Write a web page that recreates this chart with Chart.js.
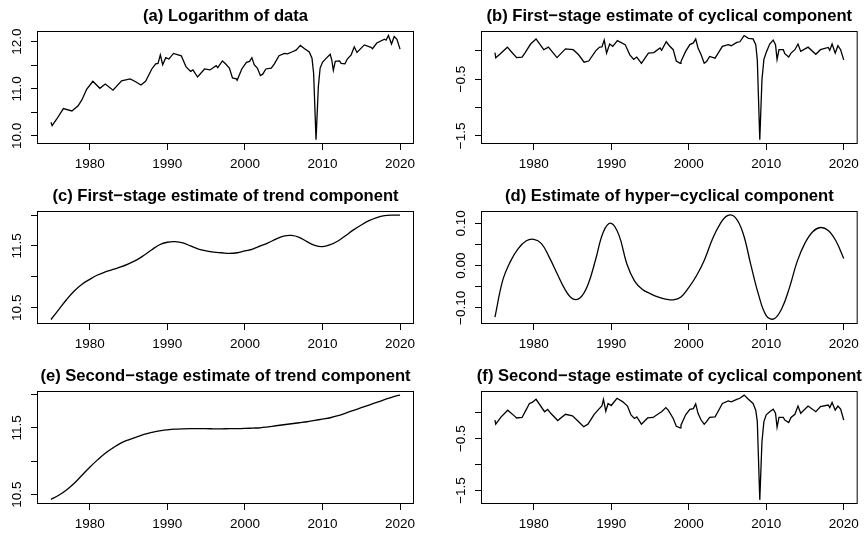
<!DOCTYPE html>
<html>
<head>
<meta charset="utf-8">
<script src="https://cdn.jsdelivr.net/npm/chart.js@4.4.1/dist/chart.umd.min.js"></script>
<style>
  html, body { margin: 0; padding: 0; background: #fff; }
  #page { position: relative; width: 865px; height: 538px; }
  canvas { position: absolute; }
</style>
</head>
<body>
<div id="page">
  <canvas id="panelA" width="432" height="179" style="left:0;top:0"></canvas>
  <canvas id="panelB" width="433" height="179" style="left:432px;top:0"></canvas>
  <canvas id="panelC" width="432" height="179" style="left:0;top:179px"></canvas>
  <canvas id="panelD" width="433" height="179" style="left:432px;top:179px"></canvas>
  <canvas id="panelE" width="432" height="180" style="left:0;top:358px"></canvas>
  <canvas id="panelF" width="433" height="180" style="left:432px;top:358px"></canvas>
</div>
<script>
// x ticks shared by all panels
const yearTicks = [1980, 1990, 2000, 2010, 2020];

// (a) logarithm of data
const logYears = [1975.0, 1975.15, 1975.75, 1976.6, 1977.7, 1978.5, 1979.0, 1979.6, 1980.4, 1981.3,
  1982.0, 1983.0, 1984.1, 1985.2, 1985.8, 1986.6, 1987.2, 1988.0, 1988.5, 1988.8,
  1989.1, 1989.4, 1989.8, 1990.2, 1990.8, 1991.8, 1992.4, 1993.0, 1993.3, 1993.9,
  1994.8, 1995.5, 1996.3, 1996.5, 1997.1, 1997.5, 1998.0, 1998.4, 1998.9, 1999.0,
  1999.6, 2000.2, 2000.6, 2000.9, 2001.2, 2001.6, 2002.0, 2002.3, 2002.7, 2003.4,
  2003.8, 2004.4, 2005.1, 2005.5, 2006.2, 2006.6, 2007.15, 2007.7, 2008.3, 2008.65,
  2008.86, 2009.17, 2009.47, 2009.7, 2010.0, 2010.5, 2011.0, 2011.2, 2011.4, 2011.65,
  2012.2, 2012.4, 2012.9, 2013.2, 2013.7, 2014.1, 2014.45, 2015.4, 2016.25, 2016.45,
  2017.0, 2018.0, 2018.2, 2018.5, 2018.9, 2019.25, 2019.6, 2020.0];
const logValues = [10.29, 10.22, 10.36, 10.58, 10.53, 10.64, 10.77, 10.99, 11.16, 11.01,
  11.10, 10.97, 11.17, 11.21, 11.16, 11.08, 11.16, 11.42, 11.53, 11.54,
  11.72, 11.51, 11.66, 11.63, 11.75, 11.70, 11.47, 11.37, 11.40, 11.25,
  11.42, 11.40, 11.49, 11.45, 11.59, 11.53, 11.44, 11.23, 11.21, 11.18,
  11.42, 11.56, 11.58, 11.66, 11.51, 11.44, 11.28, 11.31, 11.42, 11.44,
  11.53, 11.70, 11.75, 11.74, 11.79, 11.82, 11.92, 11.85, 11.78, 11.65,
  11.33, 9.92, 11.05, 11.44, 11.56, 11.65, 11.73, 11.61, 11.39, 11.58,
  11.59, 11.54, 11.53, 11.63, 11.72, 11.89, 11.77, 11.93, 11.88, 11.85,
  11.97, 12.05, 12.03, 12.13, 11.95, 12.11, 12.05, 11.84];

// (b) first-stage cyclical component
const cyc1Years = [1975.0, 1975.1, 1975.7, 1976.6, 1977.2, 1977.8, 1978.5, 1978.9, 1979.6, 1980.3,
  1981.3, 1981.9, 1983.0, 1984.1, 1985.1, 1985.8, 1986.5, 1987.1, 1988.0, 1988.5,
  1988.8, 1989.1, 1989.4, 1989.8, 1990.2, 1990.8, 1991.8, 1992.4, 1992.9, 1993.3,
  1993.9, 1994.8, 1995.5, 1996.3, 1996.5, 1997.1, 1997.5, 1998.0, 1998.4, 1998.9,
  1999.0, 1999.6, 2000.15, 2000.6, 2000.9, 2001.2, 2001.6, 2002.0, 2002.3, 2002.7,
  2003.4, 2003.8, 2004.35, 2005.1, 2005.5, 2006.2, 2006.6, 2007.15, 2007.7, 2008.3,
  2008.65, 2008.85, 2009.17, 2009.45, 2009.7, 2010.0, 2010.45, 2010.9, 2011.2, 2011.4,
  2011.65, 2012.2, 2012.4, 2012.9, 2013.2, 2013.7, 2014.1, 2014.45, 2015.4, 2016.4,
  2017.0, 2018.0, 2018.2, 2018.5, 2018.9, 2019.25, 2019.6, 2020.0];
const cyc1Values = [-0.03, -0.12, -0.05, 0.065, -0.03, -0.12, -0.11, -0.03, 0.12, 0.21,
  0.02, 0.065, -0.12, 0.035, 0.02, -0.07, -0.20, -0.18, 0.0, 0.065,
  0.07, 0.19, -0.04, 0.12, 0.08, 0.18, 0.11, -0.07, -0.15, -0.11,
  -0.22, -0.04, -0.03, 0.05, 0.01, 0.16, 0.09, 0.02, -0.18, -0.22,
  -0.19, -0.01, 0.11, 0.14, 0.21, 0.05, -0.07, -0.22, -0.19, -0.10,
  -0.13, -0.04, 0.08, 0.11, 0.09, 0.15, 0.16, 0.27, 0.22, 0.21,
  0.11, -0.16, -1.57, -0.51, -0.15, -0.03, 0.12, 0.19, 0.11, -0.15,
  0.02, 0.02, -0.05, -0.11, -0.04, 0.02, 0.12, -0.01, 0.065, -0.06,
  0.02, 0.06, 0.01, 0.12, -0.04, 0.09, 0.02, -0.16];

// smooth components, one value per year 1975..2020
const annualYears = Array.from({ length: 46 }, (_, i) => 1975 + i);
const trend1Values = [10.31, 10.47, 10.63, 10.77, 10.88, 10.96, 11.03, 11.08, 11.12, 11.16,
  11.21, 11.27, 11.35, 11.44, 11.52, 11.56, 11.57, 11.55, 11.50, 11.45,
  11.42, 11.40, 11.39, 11.38, 11.39, 11.42, 11.45, 11.50, 11.55, 11.61,
  11.66, 11.67, 11.64, 11.57, 11.51, 11.49, 11.52, 11.58, 11.67, 11.76,
  11.84, 11.91, 11.96, 11.99, 12.00, 12.00];
const hyperValues = [-0.122, -0.035, 0.010, 0.040, 0.058, 0.062, 0.052, 0.020, -0.018, -0.055,
  -0.078, -0.076, -0.045, 0.015, 0.080, 0.100, 0.072, 0.005, -0.036, -0.056,
  -0.066, -0.074, -0.079, -0.081, -0.074, -0.052, -0.024, 0.012, 0.060, 0.097,
  0.118, 0.114, 0.077, 0.003, -0.068, -0.118, -0.126, -0.102, -0.052, 0.010,
  0.053, 0.080, 0.090, 0.083, 0.058, 0.017];
const trend2Values = [10.43, 10.49, 10.57, 10.67, 10.79, 10.91, 11.02, 11.12, 11.20, 11.27,
  11.32, 11.36, 11.40, 11.43, 11.455, 11.47, 11.48, 11.485, 11.487, 11.487,
  11.486, 11.485, 11.485, 11.486, 11.488, 11.49, 11.495, 11.50, 11.515, 11.53,
  11.545, 11.56, 11.575, 11.59, 11.61, 11.63, 11.65, 11.68, 11.72, 11.76,
  11.80, 11.84, 11.88, 11.92, 11.96, 11.99];

// (f) second-stage cyclical component
const cyc2Years = [1975.0, 1975.1, 1975.8, 1976.65, 1977.5, 1977.8, 1978.5, 1979.0, 1979.45, 1979.8,
  1980.3, 1981.4, 1981.8, 1982.2, 1983.1, 1984.1, 1985.0, 1985.7, 1986.45, 1987.0,
  1987.8, 1988.4, 1988.8, 1989.0, 1989.3, 1989.6, 1990.0, 1990.75, 1991.5, 1992.1,
  1992.55, 1993.0, 1993.3, 1993.9, 1994.7, 1995.4, 1996.2, 1996.5, 1997.05, 1997.36,
  1998.0, 1998.4, 1998.9, 1999.0, 1999.6, 2000.15, 2000.6, 2000.9, 2001.2, 2001.6,
  2002.0, 2002.3, 2002.7, 2003.4, 2003.8, 2004.35, 2005.1, 2005.5, 2006.2, 2006.6,
  2007.15, 2007.7, 2008.3, 2008.65, 2008.85, 2009.17, 2009.45, 2009.7, 2010.0, 2010.45,
  2010.9, 2011.2, 2011.4, 2011.65, 2012.2, 2012.4, 2012.9, 2013.2, 2013.7, 2014.1,
  2014.45, 2015.4, 2016.4, 2017.0, 2018.0, 2018.2, 2018.5, 2018.9, 2019.25, 2019.6, 2020.0];
const cyc2Values = [-0.14, -0.22, -0.08, 0.05, -0.06, -0.10, -0.09, 0.05, 0.18, 0.20,
  0.26, 0.02, 0.065, -0.01, -0.15, -0.03, -0.06, -0.16, -0.27, -0.22,
  -0.03, 0.07, 0.13, 0.26, 0.03, 0.18, 0.14, 0.28, 0.21, 0.13,
  -0.04, -0.11, -0.08, -0.22, -0.10, -0.09, -0.01, 0.02, 0.10, 0.05,
  -0.11, -0.26, -0.29, -0.24, -0.04, 0.065, 0.08, 0.17, -0.01, -0.14,
  -0.22, -0.17, -0.09, -0.08, 0.03, 0.18, 0.23, 0.21, 0.26, 0.28,
  0.34, 0.26, 0.18, 0.05, -0.17, -1.68, -0.56, -0.17, -0.04, 0.02,
  0.07, -0.01, -0.28, -0.09, -0.09, -0.14, -0.19, -0.09, -0.03, 0.13,
  -0.01, 0.13, 0.02, 0.12, 0.15, 0.10, 0.20, 0.05, 0.13, 0.07, -0.14];

// y tick values and printed labels (R skips labels that would overlap)
const levelTicksA = [10, 10.5, 11, 11.5, 12];
const levelLabelsA = ['10.0', '', '11.0', '', '12.0'];
const cycTicks = [-1.5, -1, -0.5, 0];
const cycLabels = ['\u22121.5', '', '\u22120.5', ''];
const trendTicks = [10.5, 11, 11.5, 12];
const trendLabels = ['10.5', '', '11.5', ''];
const hyperTicks = [-0.1, -0.05, 0, 0.05, 0.1];
const hyperLabels = ['\u22120.10', '', '0.00', '', '0.10'];

const FONT = '"Liberation Sans", Arial, Helvetica, sans-serif';
Chart.defaults.font.family = FONT;
Chart.defaults.font.size = 13.5;
Chart.defaults.color = '#000';

// draws the title and the full box round the plot region
const panelFrame = {
  id: 'panelFrame',
  afterDraw(chart, args, opts) {
    const { ctx, chartArea: a } = chart;
    ctx.save();
    ctx.strokeStyle = '#000';
    ctx.lineWidth = 1;
    ctx.strokeRect(a.left + 0.5, a.top + 0.5, a.width - 1, a.height - 1);
    ctx.font = 'bold 16.6px ' + FONT;
    ctx.fillStyle = '#000';
    ctx.textAlign = 'center';
    ctx.textBaseline = 'alphabetic';
    ctx.fillText(opts.text, (a.left + a.right) / 2, a.top - 10);
    ctx.restore();
  }
};

function labelPad(labels) {
  const c = document.createElement('canvas').getContext('2d');
  c.font = '13.5px ' + FONT;
  const w = Math.max(...labels.map(t => c.measureText(t).width));
  return 20 - 6 - w / 2;
}

function panel(id, p) {
  const points = p.xs.map((x, i) => ({ x: x, y: p.ys[i] }));
  new Chart(document.getElementById(id), {
    type: 'line',
    data: {
      datasets: [{
        data: points,
        borderColor: '#000',
        borderWidth: 1.3,
        pointRadius: 0,
        tension: p.smooth ? 0.4 : 0,
        fill: false
      }]
    },
    options: {
      responsive: false,
      animation: false,
      events: [],
      layout: { padding: { left: 0, right: p.right, top: p.top, bottom: 0 } },
      plugins: {
        legend: { display: false },
        tooltip: { enabled: false },
        panelFrame: { text: p.title }
      },
      scales: {
        x: {
          type: 'linear',
          min: 1973.2,
          max: 2021.8,
          afterBuildTicks: s => { s.ticks = yearTicks.map(v => ({ value: v })); },
          afterFit: s => { s.height = p.xh; },
          ticks: { autoSkip: false, maxRotation: 0, padding: 6, callback: v => String(v) },
          grid: { drawOnChartArea: false, drawTicks: true, tickLength: 6, color: '#000' },
          border: { display: false }
        },
        y: {
          type: 'linear',
          min: p.min,
          max: p.max,
          afterBuildTicks: s => { s.ticks = p.ticks.map(v => ({ value: v })); },
          afterFit: s => { s.width = p.left; },
          ticks: {
            autoSkip: false, minRotation: 90, maxRotation: 90, crossAlign: 'center',
            padding: labelPad(p.labels),
            callback: (v, i) => p.labels[i]
          },
          grid: { drawOnChartArea: false, drawTicks: true, tickLength: 6, color: '#000' },
          border: { display: false }
        }
      }
    },
    plugins: [panelFrame]
  });
}

panel('panelA', { title: '(a) Logarithm of data', xs: logYears, ys: logValues,
  min: 9.83, max: 12.225, ticks: levelTicksA, labels: levelLabelsA,
  left: 37, right: 18, top: 31, xh: 35 });
panel('panelB', { title: '(b) First\u2212stage estimate of cyclical component', xs: cyc1Years, ys: cyc1Values,
  min: -1.644, max: 0.35, ticks: cycTicks, labels: cycLabels,
  left: 49, right: 7, top: 31, xh: 35 });
panel('panelC', { title: '(c) First\u2212stage estimate of trend component', xs: annualYears, ys: trend1Values, smooth: true,
  min: 10.237, max: 12.066, ticks: trendTicks, labels: trendLabels,
  left: 37, right: 18, top: 32, xh: 34 });
panel('panelD', { title: '(d) Estimate of hyper\u2212cyclical component', xs: annualYears, ys: hyperValues, smooth: true,
  min: -0.138, max: 0.129, ticks: hyperTicks, labels: hyperLabels,
  left: 49, right: 7, top: 32, xh: 34 });
panel('panelE', { title: '(e) Second\u2212stage estimate of trend component', xs: annualYears, ys: trend2Values, smooth: true,
  min: 10.36, max: 12.05, ticks: trendTicks, labels: trendLabels,
  left: 37, right: 18, top: 33, xh: 34 });
panel('panelF', { title: '(f) Second\u2212stage estimate of cyclical component', xs: cyc2Years, ys: cyc2Values,
  min: -1.76, max: 0.42, ticks: cycTicks, labels: cycLabels,
  left: 49, right: 7, top: 33, xh: 34 });
</script>
</body>
</html>
